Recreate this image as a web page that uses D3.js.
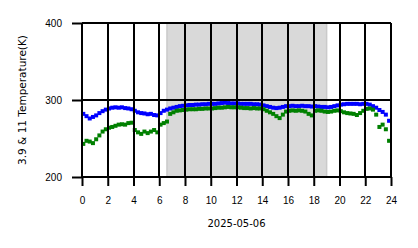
<!DOCTYPE html>
<meta charset="utf-8">
<style>
body { margin: 0; background: #fff; }
svg { display: block; font-family: "DejaVu Sans", sans-serif; }
.grid line { stroke: #000; stroke-width: 2; shape-rendering: crispEdges; }
.tick text { font-size: 10px; fill: #000; }
</style>
<body>
<svg width="418" height="248"></svg>
<script src="https://d3js.org/d3.v7.min.js"></script>
<script>

// observation times: every 15 min starting 00:06
var t0 = 0.1, dt = 0.25;

var blue = [282, 279, 276, 278, 280, 283, 285.5, 287.5, 289, 290, 290.5, 290,
  290.5, 289.5, 289, 288, 286, 284, 283, 282.5, 281.5, 282, 280.5, 280,
  283, 286, 287.5, 289, 290, 291, 292, 292.5, 293, 293.5, 293.5, 294,
  294, 294.5, 294.5, 295, 295, 295, 295.5, 296, 296.5, 296, 295.5, 295.5,
  295.5, 295, 295, 295, 295, 294.5, 294.5, 294, 293, 292, 291, 290,
  289.5, 290, 291, 292, 292, 292.5, 292, 292, 292.5, 292, 292, 291.5,
  292, 291.5, 291, 291, 290.5, 291, 292, 293, 294, 294.5, 295, 295,
  295, 295, 294.5, 295, 295, 294, 292, 290, 287, 284.5, 281, 273];

var green = [243, 247, 246, 244, 249, 254, 259, 262, 264, 265, 266.5, 268,
  268.5, 268, 270, 270.5, 261, 258, 256, 259, 257, 259, 261, 258,
  268, 270, 272, 282, 284, 286, 286.5, 287, 287.5, 288, 288, 288,
  288.5, 288.5, 289, 289, 289, 289.5, 290, 290, 290.5, 291, 290.5, 290.5,
  290.5, 290, 289.5, 289.5, 289, 289.5, 289, 289, 288, 286, 284, 282,
  279, 276.5, 281, 285, 286, 286.5, 286, 286.5, 286, 285, 282, 280,
  286, 286.5, 286, 285, 284.5, 285, 286, 286.5, 285.5, 284, 283, 282.5,
  282, 280.5, 283, 286, 288.5, 289, 287.5, 281, 265, 268, 262, 247];

var shade = [6.6, 19.0];
var xTicks = [0, 2, 4, 6, 8, 10, 12, 14, 16, 18, 20, 22, 24];
var yTicks = [200, 300, 400];
var dateLabel = "2025-05-06";
var yLabel = "3.9 & 11 Temperature(K)";

var svg = d3.select("svg");
var mLeft = 82, mRight = 391, mTop = 23, mBottom = 177;

var x = d3.scaleLinear().domain([0, 24]).range([mLeft, mRight]);
var y = d3.scaleLinear().domain([200, 400]).range([mBottom, mTop]);

// shaded interval
svg.append("rect")
  .attr("x", x(shade[0]))
  .attr("y", y(400))
  .attr("width", x(shade[1]) - x(shade[0]))
  .attr("height", y(200) - y(400))
  .attr("fill", "#d9d9d9")
  .attr("stroke", "#cacaca")
  .attr("stroke-width", 1.5);

function drawSeries(vals, color) {
  var sz = 4;
  svg.append("g").selectAll("rect")
    .data(vals)
    .enter().append("rect")
    .attr("x", function(d, i){ return x(t0 + i * dt) - sz / 2; })
    .attr("y", function(d){ return y(d) - sz / 2; })
    .attr("width", sz)
    .attr("height", sz)
    .attr("fill", color);
}

drawSeries(blue, "#0000ff");
drawSeries(green, "#008000");

// grid lines on top of data
var grid = svg.append("g").attr("class", "grid");
grid.selectAll(".xl").data(xTicks).enter().append("line")
  .attr("x1", x).attr("x2", x)
  .attr("y1", y(400)).attr("y2", y(200));
grid.selectAll(".yl").data(yTicks).enter().append("line")
  .attr("x1", x(0)).attr("x2", x(24))
  .attr("y1", y).attr("y2", y);

var xAxis = d3.axisBottom(x).tickValues(xTicks).tickSize(9).tickPadding(11)
  .tickFormat(d3.format("d"));
var gx = svg.append("g").attr("transform", "translate(0," + mBottom + ")").call(xAxis);
gx.select(".domain").remove();
gx.selectAll(".tick line").attr("stroke", "#000").attr("stroke-width", 2);

var yAxis = d3.axisLeft(y).tickValues(yTicks).tickSize(10).tickPadding(10)
  .tickFormat(d3.format("d"));
var gy = svg.append("g").attr("transform", "translate(" + mLeft + ",0)").call(yAxis);
gy.select(".domain").remove();
gy.selectAll(".tick line").attr("stroke", "#000").attr("stroke-width", 2);

svg.append("text")
  .attr("x", (mLeft + mRight) / 2)
  .attr("y", 227)
  .attr("text-anchor", "middle")
  .style("font-size", "10px")
  .text(dateLabel);

svg.append("text")
  .attr("transform", "translate(26," + ((mTop + mBottom) / 2) + ") rotate(-90)")
  .attr("text-anchor", "middle")
  .style("font-size", "10.5px")
  .text(yLabel);

</script>
</body>
</html>
